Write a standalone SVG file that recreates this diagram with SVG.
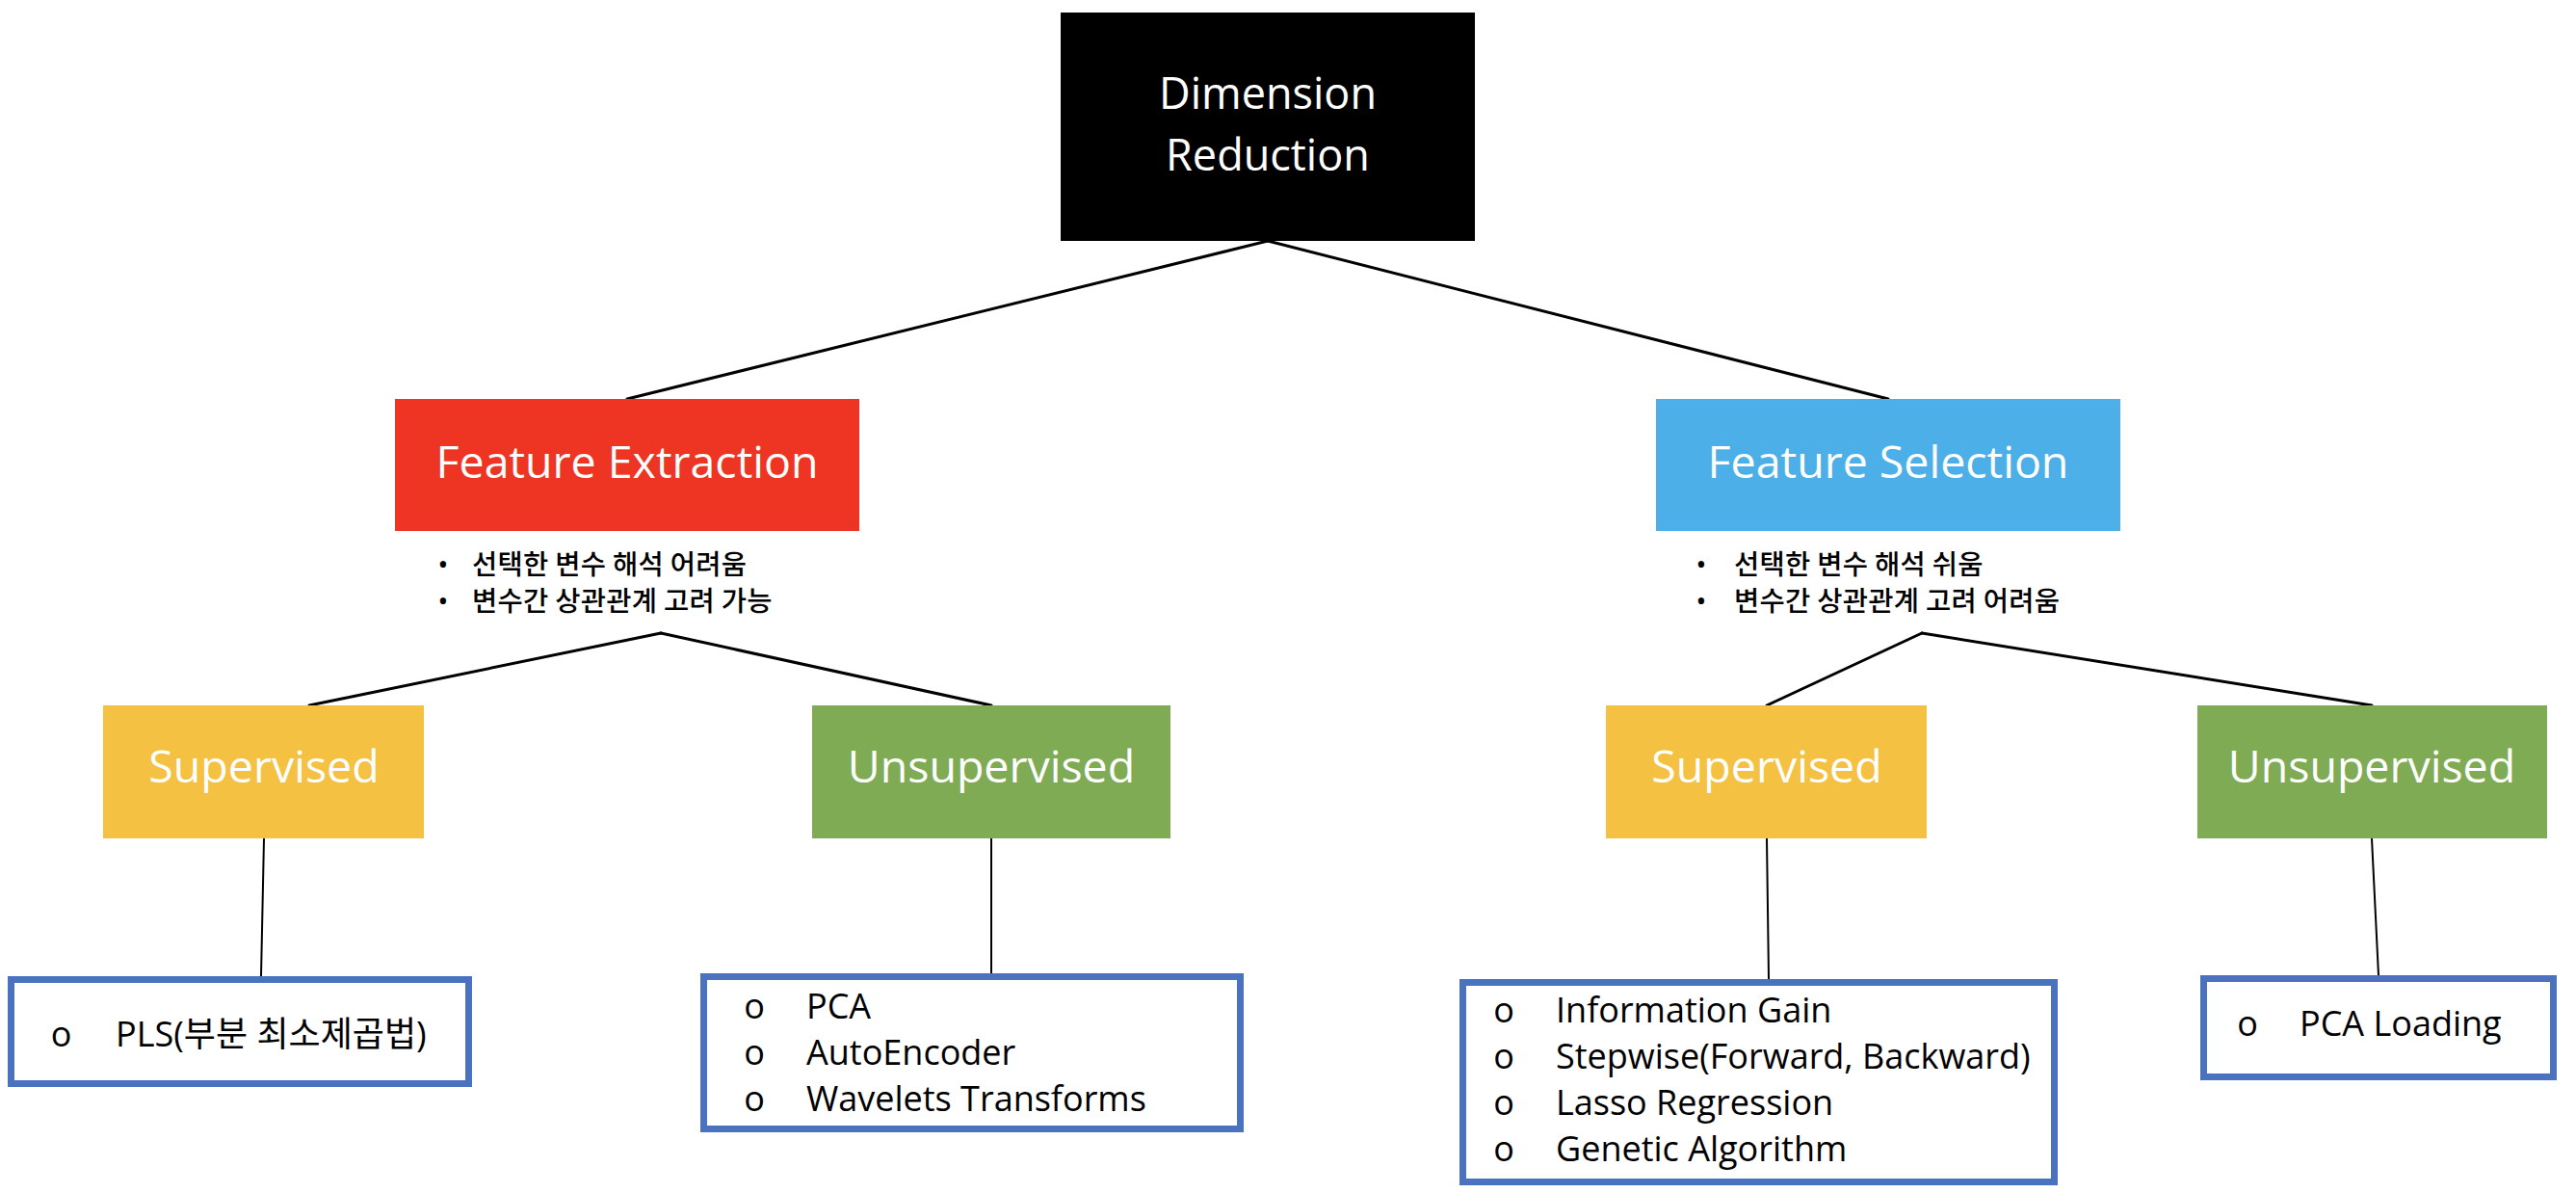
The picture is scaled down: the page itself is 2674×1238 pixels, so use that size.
<svg xmlns="http://www.w3.org/2000/svg" width="2674" height="1238" viewBox="0 0 2674 1238">
<style>
  .lbl { font-family: "Open Sans", "Noto Sans CJK KR", sans-serif; font-size: 46.5px; fill: #ffffff; text-anchor: middle; }
  .note { font-family: "Noto Sans CJK KR", "Open Sans", sans-serif; font-size: 28.5px; font-weight: 500; letter-spacing: 0.3px; fill: #000000; }
  .dot { font-family: "Open Sans", sans-serif; font-size: 30px; fill: #000000; text-anchor: middle; }
  .item { font-family: "Open Sans", "Noto Sans CJK KR", sans-serif; font-size: 36px; fill: #000000; }
  .obul { font-family: "Open Sans", sans-serif; font-size: 36px; fill: #000000; text-anchor: middle; }
  .list { fill: #ffffff; stroke: #4A72BF; stroke-width: 7; }
  .conn line { stroke: #000000; stroke-width: 3; stroke-linecap: round; }
  .conn line.v { stroke-width: 2; }
</style>
<rect x="0" y="0" width="2674" height="1238" fill="#ffffff"/>

<g id="connectors" class="conn">
  <line x1="1316" y1="250" x2="651" y2="414"/>
  <line x1="1316" y1="250" x2="1960" y2="414"/>
  <line x1="686" y1="657" x2="321" y2="732"/>
  <line x1="686" y1="657" x2="1029" y2="732"/>
  <line x1="1995" y1="657" x2="1834" y2="732"/>
  <line x1="1995" y1="657" x2="2462" y2="732"/>
  <line class="v" x1="274" y1="870" x2="271" y2="1013"/>
  <line class="v" x1="1029" y1="870" x2="1029" y2="1010"/>
  <line class="v" x1="1834" y1="870" x2="1836" y2="1016"/>
  <line class="v" x1="2462" y1="870" x2="2469" y2="1012"/>
</g>

<g id="dimension-reduction">
  <rect x="1101" y="13" width="430" height="237" fill="#000000"/>
  <text class="lbl" x="1316" y="113" style="font-size:45px">Dimension</text>
  <text class="lbl" x="1316" y="177" style="font-size:45px">Reduction</text>
</g>

<g id="feature-extraction">
  <rect x="410" y="414" width="482" height="137" fill="#EE3524"/>
  <text class="lbl" x="651" y="496">Feature Extraction</text>
  <text class="dot" x="460" y="596">•</text>
  <text class="note" x="490" y="596">선택한 변수 해석 어려움</text>
  <text class="dot" x="460" y="634">•</text>
  <text class="note" x="490" y="634">변수간 상관관계 고려 가능</text>
</g>

<g id="feature-selection">
  <rect x="1719" y="414" width="482" height="137" fill="#4DAFE7"/>
  <text class="lbl" x="1960" y="496">Feature Selection</text>
  <text class="dot" x="1766" y="596">•</text>
  <text class="note" x="1800" y="596">선택한 변수 해석 쉬움</text>
  <text class="dot" x="1766" y="634">•</text>
  <text class="note" x="1800" y="634">변수간 상관관계 고려 어려움</text>
</g>

<g id="fe-supervised">
  <rect x="107" y="732" width="333" height="138" fill="#F5C142"/>
  <text class="lbl" x="274" y="812">Supervised</text>
</g>

<g id="fe-unsupervised">
  <rect x="843" y="732" width="372" height="138" fill="#7FAB55"/>
  <text class="lbl" x="1029" y="812">Unsupervised</text>
</g>

<g id="fs-supervised">
  <rect x="1667" y="732" width="333" height="138" fill="#F5C142"/>
  <text class="lbl" x="1834" y="812">Supervised</text>
</g>

<g id="fs-unsupervised">
  <rect x="2281" y="732" width="363" height="138" fill="#7FAB55"/>
  <text class="lbl" x="2462" y="812">Unsupervised</text>
</g>

<g id="fe-supervised-list">
  <rect class="list" x="11.5" y="1016.5" width="475" height="108"/>
  <text class="obul" x="63.5" y="1086">o</text>
  <text class="item" x="120" y="1086">PLS(부분 최소제곱법)</text>
</g>

<g id="fe-unsupervised-list">
  <rect class="list" x="730.5" y="1013.5" width="557" height="158"/>
  <text class="obul" x="783" y="1057">o</text>
  <text class="item" x="837" y="1057">PCA</text>
  <text class="obul" x="783" y="1105">o</text>
  <text class="item" x="837" y="1105">AutoEncoder</text>
  <text class="obul" x="783" y="1153">o</text>
  <text class="item" x="837" y="1153">Wavelets Transforms</text>
</g>

<g id="fs-supervised-list">
  <rect class="list" x="1518.5" y="1019.5" width="614" height="207"/>
  <text class="obul" x="1561" y="1061">o</text>
  <text class="item" x="1615" y="1061">Information Gain</text>
  <text class="obul" x="1561" y="1109">o</text>
  <text class="item" x="1615" y="1109">Stepwise(Forward, Backward)</text>
  <text class="obul" x="1561" y="1157">o</text>
  <text class="item" x="1615" y="1157">Lasso Regression</text>
  <text class="obul" x="1561" y="1205">o</text>
  <text class="item" x="1615" y="1205">Genetic Algorithm</text>
</g>

<g id="fs-unsupervised-list">
  <rect class="list" x="2287.5" y="1015.5" width="363" height="102"/>
  <text class="obul" x="2333" y="1075">o</text>
  <text class="item" x="2387" y="1075">PCA Loading</text>
</g>
</svg>
